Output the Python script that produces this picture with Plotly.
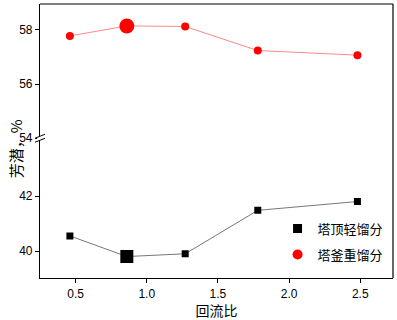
import plotly.graph_objects as go

reflux_ratio = [0.46, 0.86, 1.27, 1.78, 2.48]
top_light = [40.55, 39.80, 39.90, 41.48, 41.80]
bottom_heavy = [57.78, 58.15, 58.13, 57.24, 57.07]
series_names = ["塔顶轻馏分", "塔釜重馏分"]
x_title = "回流比"
y_title = "芳潜，%"
x_ticks = [0.5, 1.0, 1.5, 2.0, 2.5]
y_ticks_low = [40, 42]
y_ticks_high = [54, 56, 58]

tick_font = dict(family="Liberation Sans, Arial", size=12, color="black")
cjk_font = dict(family="Noto Sans CJK SC", size=14, color="black")
ytitle_font = dict(family="Noto Sans CJK SC", size=15, color="black")
legend_font = dict(family="Noto Sans CJK SC", size=13, color="black")

fig = go.Figure()
fig.add_trace(go.Scatter(
    x=reflux_ratio, y=top_light, mode="lines+markers",
    line=dict(color="#777777", width=1),
    marker=dict(symbol="square", color="black", size=[7, 13, 7, 7, 7],
                opacity=1, line=dict(width=0)),
    xaxis="x", yaxis="y", showlegend=False))
fig.add_trace(go.Scatter(
    x=reflux_ratio, y=bottom_heavy, mode="lines+markers",
    line=dict(color="#ff8a8a", width=1),
    marker=dict(symbol="circle", color="red", size=[8, 15, 8, 8, 8],
                opacity=1, line=dict(width=0)),
    xaxis="x", yaxis="y2", showlegend=False))
# legend entries (marker only)
fig.add_trace(go.Scatter(
    x=[None], y=[None], mode="markers", name=series_names[0],
    marker=dict(symbol="square", color="black", size=9, line=dict(width=0)),
    legendgroup="a", xaxis="x", yaxis="y"))
fig.add_trace(go.Scatter(
    x=[None], y=[None], mode="markers", name=series_names[1],
    marker=dict(symbol="circle", color="red", size=10, line=dict(width=0)),
    legendgroup="b", xaxis="x", yaxis="y"))

BREAK = 0.51
fig.update_layout(
    width=397, height=320,
    margin=dict(l=40, r=4, t=4, b=42, autoexpand=False),
    paper_bgcolor="white", plot_bgcolor="white",
    xaxis=dict(range=[0.25, 2.73], tickvals=x_ticks, tickformat=".1f",
               ticks="outside", ticklen=4, tickcolor="black",
               showgrid=False, zeroline=False, showline=True,
               linecolor="black", linewidth=1.2, automargin=False,
               anchor="y", tickfont=tick_font,
               title=dict(text=x_title, font=cjk_font, standoff=4)),
    yaxis=dict(domain=[0, BREAK], range=[39.02, 44.1], tickvals=y_ticks_low,
               ticks="outside", ticklen=4, tickcolor="black",
               showgrid=False, zeroline=False, showline=True,
               linecolor="black", linewidth=1.2, automargin=False,
               anchor="x", tickfont=tick_font),
    yaxis2=dict(domain=[BREAK, 1], range=[54, 58.96], tickvals=y_ticks_high,
                ticks="outside", ticklen=4, tickcolor="black",
                showgrid=False, zeroline=False, showline=True,
                linecolor="black", linewidth=1.2, automargin=False,
                anchor="x", tickfont=tick_font),
    legend=dict(x=0.673, y=0.235, xanchor="left", yanchor="top",
                bgcolor="rgba(0,0,0,0)", font=legend_font,
                traceorder="grouped", tracegroupgap=6),
    showlegend=True,
)

px_x = 1 / 353.0
px_y = 1 / 274.0
shapes = [
    dict(type="line", xref="paper", yref="paper", x0=0, x1=1, y0=1, y1=1,
         line=dict(color="black", width=1.2)),
    dict(type="line", xref="paper", yref="paper", x0=1, x1=1, y0=0, y1=1,
         line=dict(color="black", width=1.2)),
    dict(type="rect", xref="paper", yref="paper",
         x0=-3 * px_x, x1=3 * px_x, y0=BREAK - 2 * px_y, y1=BREAK + 2 * px_y,
         fillcolor="white", line=dict(width=0), layer="above"),
    dict(type="line", xref="paper", yref="paper",
         x0=-5 * px_x, x1=5 * px_x, y0=BREAK - 4 * px_y, y1=BREAK,
         line=dict(color="black", width=1)),
    dict(type="line", xref="paper", yref="paper",
         x0=-5 * px_x, x1=5 * px_x, y0=BREAK, y1=BREAK + 4 * px_y,
         line=dict(color="black", width=1)),
]
fig.update_layout(shapes=shapes)

fig.add_annotation(text=y_title, xref="paper", yref="paper",
                   x=-25 * px_x, y=0.47, textangle=-90, showarrow=False,
                   xanchor="center", yanchor="middle", font=ytitle_font)

fig.write_html("out.html", config={"displayModeBar": False},
               post_script="document.body.style.margin='0px';")
